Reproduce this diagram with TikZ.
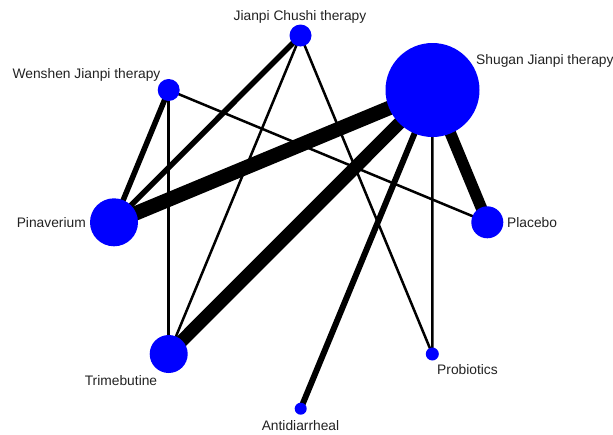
\documentclass[tikz,border=0pt]{standalone}
\usepackage{fontspec}
\setmainfont{Liberation Sans}
\pgfdeclarelayer{bg}
\pgfsetlayers{bg,main}
\definecolor{nodeblue}{RGB}{0,0,255}
\definecolor{labelgray}{RGB}{34,34,34}
\tikzset{
  trt/.style={circle,fill=nodeblue,inner sep=0pt,minimum size=#1},
  lbl/.style={font=\fontsize{13.8}{16}\selectfont,text=labelgray,inner sep=0pt},
  edge/.style={draw=black,line width=#1}
}
\begin{document}
\begin{tikzpicture}[x=1pt,y=-1pt]
\useasboundingbox (0,0) rectangle (613,434);
% treatment nodes
\node[trt=22pt] (jc) at (300.5,35.5) {};
\node[trt=94pt] (sg) at (432.5,90) {};
\node[trt=22pt] (ws) at (168.7,90) {};
\node[trt=48pt] (pin) at (114,222.3) {};
\node[trt=32pt] (pla) at (487.3,222.3) {};
\node[trt=38pt] (tri) at (168.7,354) {};
\node[trt=13pt] (pro) at (432.3,354) {};
\node[trt=12pt] (anti) at (300.7,408.7) {};
% labels
\node[lbl] (ljc) at (300,17) {Jianpi Chushi therapy};
\node[lbl,anchor=west] (lsg) at (476,61) {Shugan Jianpi therapy};
\node[lbl] (lws) at (86.5,75) {Wenshen Jianpi therapy};
\node[lbl,anchor=east] (lpin) at (86,222.5) {Pinaverium};
\node[lbl,anchor=west] (lpla) at (507,222.5) {Placebo};
\node[lbl] (ltri) at (121,380.7) {Trimebutine};
\node[lbl,anchor=west] (lpro) at (437,370) {Probiotics};
\node[lbl] (lanti) at (300.5,425.7) {Antidiarrheal};
% connectors
\begin{pgfonlayer}{bg}
\draw[edge=14.5pt] (sg.center) -- (pin.center);
\draw[edge=13pt] (sg.center) -- (tri.center);
\draw[edge=11.5pt] (sg.center) -- (pla.center);
\draw[edge=6pt] (sg.center) -- (anti.center);
\draw[edge=2.5pt] (sg.center) -- (pro.center);
\draw[edge=5.5pt] (ws.center) -- (pin.center);
\draw[edge=2.5pt] (ws.center) -- (tri.center);
\draw[edge=2.5pt] (ws.center) -- (pla.center);
\draw[edge=5.5pt] (jc.center) -- (pin.center);
\draw[edge=2.5pt] (jc.center) -- (tri.center);
\draw[edge=2.5pt] (jc.center) -- (pro.center);
\end{pgfonlayer}
\end{tikzpicture}
\end{document}
